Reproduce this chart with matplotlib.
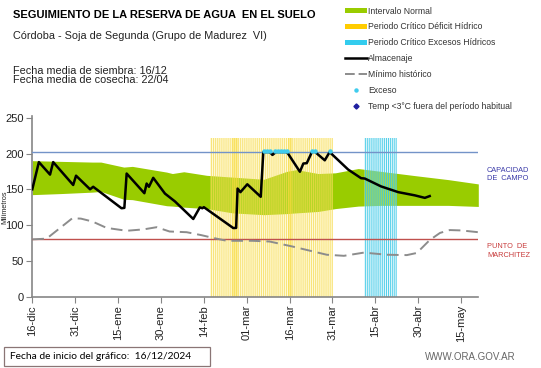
import matplotlib
matplotlib.use("Agg")
import matplotlib.pyplot as plt
from matplotlib.lines import Line2D
from matplotlib.patches import Patch, Rectangle
import numpy as np

plt.rcParams["font.family"] = ["Liberation Sans", "DejaVu Sans"]
plt.rcParams["hatch.linewidth"] = 0.7

# <---------------- datos (dias desde 16-dic-2024) ---------------->
tick_days = [0, 15, 30, 45, 60, 75, 90, 105, 120, 135, 150]
tick_labels = ["16-dic", "31-dic", "15-ene", "30-ene", "14-feb", "01-mar",
               "16-mar", "31-mar", "15-abr", "30-abr", "15-may"]

band_days = [0, 10, 21, 24, 32, 35, 47, 49, 53, 61, 70, 81, 89, 92.4, 100,
             106, 114, 122, 134, 145.5, 156]
band_upper = [190, 189, 188, 188, 181, 182, 174, 172, 174.5, 169.5, 167, 164,
              175, 177.5, 172, 173, 179, 175, 169, 163.5, 157.5]
band_lower = [142.5, 144, 146, 147, 136, 135.5, 127, 126.5, 125, 123, 117,
              114.5, 116, 117, 119, 123, 126.5, 127.5, 127.5, 127.5, 126]

alm_days = [0, 2.3, 6.2, 7.3, 14.3, 15.3, 20.2, 21.3, 31.2, 32.2, 33, 39.2,
            40, 40.8, 42.3, 46.4, 49.9, 56.3, 58.6, 59.5, 60, 70.3, 71.3,
            71.8, 72.8, 75.2, 79.9, 80.8, 83.1, 84, 85.2, 89.1, 93.6, 94.8,
            96, 97.8, 98.8, 102.3, 104, 110.5, 115, 116.3, 122, 128, 133.8,
            137.3, 139]
alm_vals = [150, 188, 170.5, 188, 156, 169, 150, 153.5, 123.5, 124, 172,
            144.5, 158, 153.5, 166, 144, 133, 108.5, 124.7, 123.5, 125, 95.8,
            96, 151, 146, 157, 139.5, 202, 202, 198, 202, 202, 174.5, 186,
            186.5, 202, 202.5, 190.5, 202, 177.5, 165.5, 165, 154, 146,
            141.5, 138, 140.5]

min_days = [0, 5, 14, 17, 21, 26, 33, 39, 43.5, 48, 54, 59, 63.3, 68, 77,
            83, 91, 103, 109, 116, 124, 131, 134.5, 139, 142.6, 146, 150, 156]
min_vals = [80, 81, 109.5, 109, 105, 96, 92, 94, 97, 91, 90, 86, 82, 78, 78,
            77, 70, 58.5, 57, 61.5, 58.5, 58, 61, 79, 89, 93, 92.5, 90]

exceso_days = [81, 82, 83, 85, 86, 87, 88, 89, 98, 99, 104]
exceso_vals = [203] * len(exceso_days)
temp_frio_days = []
temp_frio_vals = []

capacidad_campo = 202
punto_marchitez = 80
deficit_periodo = (62, 105.3)
deficit_fuerte = [(70, 72), (89.5, 91)]
exceso_periodo = (116, 127.4)
barra_alto = 222

# <---------------- figura ---------------->
fig = plt.figure(figsize=(5.41, 3.68), dpi=100)
W, H = 541, 368
ax = fig.add_axes([32.3 / W, 1 - 296.6 / H, (478.3 - 32.3) / W,
                   (296.6 - 116.3) / H])
ax.set_xlim(0, 156)
ax.set_ylim(0, 252)

ax.fill_between(band_days, band_lower, band_upper, color="#99cc00",
                linewidth=0, zorder=1)

# periodos criticos
ax.bar((deficit_periodo[0] + deficit_periodo[1]) / 2, barra_alto,
       width=deficit_periodo[1] - deficit_periodo[0],
       facecolor=(1.0, 0.94, 0.5, 0.3), edgecolor=(0.96, 0.85, 0.3, 0.7),
       hatch="||||||||", linewidth=0, zorder=2)
for a, b in deficit_fuerte:
    ax.bar((a + b) / 2, barra_alto, width=b - a,
           facecolor=(0.98, 0.86, 0.2, 0.4), linewidth=0, zorder=2)
ax.bar((exceso_periodo[0] + exceso_periodo[1]) / 2, barra_alto,
       width=exceso_periodo[1] - exceso_periodo[0],
       facecolor=(0.75, 0.93, 0.97, 0.35), edgecolor=(0.2, 0.78, 0.9, 0.85),
       hatch="||||||||", linewidth=0, zorder=2)

ax.axhline(capacidad_campo, color="#7393c8", lw=1.0, zorder=3)
ax.axhline(punto_marchitez, color="#c0504d", lw=1.0, zorder=3)

ax.plot(min_days, min_vals, color="#8c8c8c", lw=1.4, dashes=(6, 3),
        zorder=3)
ax.plot(alm_days, alm_vals, color="black", lw=1.8, zorder=4)
ax.plot(exceso_days, exceso_vals, ls="none", marker="o", ms=2.2,
        color="#40ccee", zorder=5)
ax.plot(temp_frio_days, temp_frio_vals, ls="none", marker="D", ms=3,
        color="#1f1fa0", zorder=5)

# ejes
for s in ["top", "right"]:
    ax.spines[s].set_visible(False)
for s in ["left", "bottom"]:
    ax.spines[s].set_color("#868686")
    ax.spines[s].set_linewidth(1.2)
ax.set_yticks([0, 50, 100, 150, 200, 250])
ax.set_xticks(tick_days)
ax.set_xticklabels(tick_labels, rotation=90)
ax.tick_params(direction="out", length=4, color="#868686", labelsize=8,
               labelcolor="#222222", pad=2)

fig.text(4.5 / W, 1 - 207 / H, "Milímetros", rotation=90, fontsize=5.2,
         ha="center", va="center", color="#222222")

# textos
fig.text(12.7 / W, 1 - 15.5 / H,
         "SEGUIMIENTO DE LA RESERVA DE AGUA  EN EL SUELO",
         fontsize=8, fontweight="bold", va="center")
fig.text(12.7 / W, 1 - 36 / H,
         "Córdoba - Soja de Segunda (Grupo de Madurez  VI)",
         fontsize=7.8, va="center", color="#222222")
fig.text(12.7 / W, 1 - 70.5 / H, "Fecha media de siembra: 16/12",
         fontsize=7.8, va="center", color="#222222")
fig.text(12.7 / W, 1 - 80 / H, "Fecha media de cosecha: 22/04",
         fontsize=7.8, va="center", color="#222222")

fig.text(487 / W, 1 - 174.5 / H, "CAPACIDAD\nDE  CAMPO", fontsize=5.3,
         color="#3a3aa8", va="center", linespacing=1.25)
fig.text(487 / W, 1 - 251 / H, "PUNTO  DE\nMARCHITEZ", fontsize=5.3,
         color="#c83c3c", va="center", linespacing=1.25)

fig.patches.append(Rectangle((3.5 / W, 1 - 366 / H), (210 - 3.5) / W,
                             19 / H, transform=fig.transFigure,
                             facecolor="white", edgecolor="#8a7575",
                             linewidth=0.9))
fig.text(9.5 / W, 1 - 356.5 / H, "Fecha de inicio del gráfico:  16/12/2024",
         fontsize=7.4, va="center", family=["Lato", "DejaVu Sans"])
fig.text(516 / W, 1 - 356.5 / H, "WWW.ORA.GOV.AR", fontsize=7,
         color="#666666", ha="right", va="center")

# leyenda
handles = [
    Patch(facecolor="#99cc00"),
    Patch(facecolor="#ffcc00"),
    Patch(facecolor="#33ccee"),
    Line2D([], [], color="black", lw=1.8),
    Line2D([], [], color="#8c8c8c", lw=1.4, dashes=(5, 2)),
    Line2D([], [], ls="none", marker="o", ms=2.2, color="#40ccee"),
    Line2D([], [], ls="none", marker="D", ms=2.6, color="#1f1fa0"),
]
labels = ["Intervalo Normal", "Periodo Crítico Déficit Hídrico",
          "Periodo Crítico Excesos Hídricos", "Almacenaje", "Mínimo histórico",
          "Exceso", "Temp <3°C fuera del período habitual"]
fig.legend(handles, labels, loc="upper left",
           bbox_to_anchor=(345 / W, 1 - 6.5 / H), frameon=False,
           fontsize=6.2, handlelength=2.5, handleheight=0.6,
           handletextpad=0.2, labelspacing=0.8, borderpad=0,
           borderaxespad=0, labelcolor="#333333")

plt.savefig("out.png", dpi=100)
